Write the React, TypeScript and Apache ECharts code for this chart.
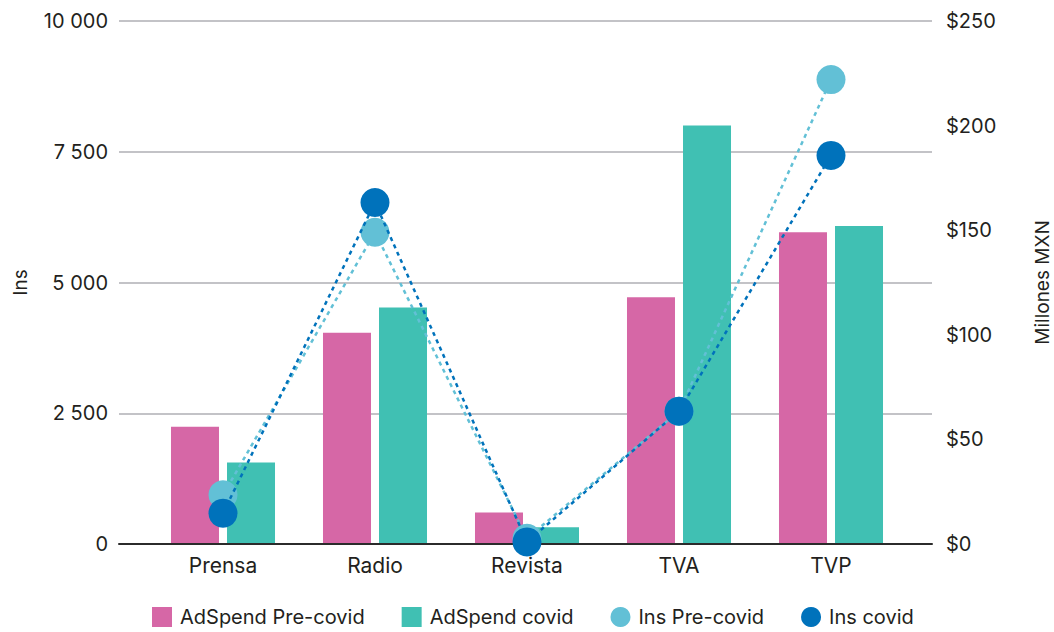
import React, { useEffect, useRef } from "react";
import * as echarts from "echarts";

const categories = ["Prensa", "Radio", "Revista", "TVA", "TVP"];
// AdSpend, millones MXN
const adSpendPre = [56, 101, 15, 118, 149];
const adSpendCovid = [39, 113, 8, 200, 152];
// Inserciones
const insPre = [940, 5960, 110, 2540, 8880];
const insCovid = [590, 6530, 40, 2540, 7430];

const PINK = "#D667A6";
const TEAL = "#40C0B3";
const LIGHT_BLUE = "#62C0D6";
const BLUE = "#0072BB";
const TEXT = "#231F20";
const FONT = "Inter, 'Liberation Sans', sans-serif";

const fmtThousands = (v: number) =>
  String(v).replace(/\B(?=(\d{3})+(?!\d))/g, " ");

export default function App() {
  const ref = useRef<HTMLDivElement>(null);

  useEffect(() => {
    if (!ref.current) return;
    const chart = echarts.init(ref.current, undefined, { renderer: "svg" });

    const lineStyle = (color: string) => ({
      color,
      width: 2.5,
      type: [4, 4] as number[],
    });

    chart.setOption({
      animation: false,
      textStyle: { fontFamily: FONT, color: TEXT },
      grid: [
        // frame: gridlines, axis labels, baseline
        {
          left: 119,
          right: 122,
          top: 21,
          bottom: 88,
          containLabel: false,
          outerBoundsMode: "none",
        },
        // data area
        {
          left: 147,
          right: 147,
          top: 21,
          bottom: 88,
          containLabel: false,
          outerBoundsMode: "none",
        },
      ],
      legend: {
        top: 602,
        left: 147,
        itemWidth: 20,
        itemHeight: 20,
        itemGap: 37,
        textStyle: {
          fontFamily: FONT,
          fontSize: 20,
          lineHeight: 20,
          color: TEXT,
          padding: [0, 0, 0, 3],
        },
        data: [
          { name: "AdSpend Pre-covid", icon: "rect" },
          { name: "AdSpend covid", icon: "rect" },
          { name: "Ins Pre-covid", icon: "circle" },
          { name: "Ins covid", icon: "circle" },
        ],
      },
      xAxis: [
        {
          type: "category",
          gridIndex: 0,
          data: categories,
          axisLine: { show: true, lineStyle: { color: "#2B2B2B", width: 2 } },
          axisTick: { show: false },
          axisLabel: { show: false },
          z: 5,
        },
        {
          type: "category",
          gridIndex: 1,
          data: categories,
          axisLine: { show: false },
          axisTick: { show: false },
          axisLabel: {
            fontFamily: FONT,
            fontSize: 21,
            color: TEXT,
            margin: 11,
          },
        },
      ],
      yAxis: [
        {
          type: "value",
          gridIndex: 0,
          position: "left",
          min: 0,
          max: 10000,
          interval: 2500,
          name: "Ins",
          nameLocation: "middle",
          nameRotate: 90,
          nameGap: 89,
          nameTextStyle: { fontFamily: FONT, fontSize: 19, color: TEXT },
          axisLine: { show: false },
          axisTick: { show: false },
          axisLabel: {
            fontFamily: FONT,
            fontSize: 20,
            color: TEXT,
            margin: 11,
            formatter: (v: number) => fmtThousands(v),
          },
          splitLine: { show: true, lineStyle: { color: "#C3C3C7", width: 2 } },
        },
        {
          type: "value",
          gridIndex: 0,
          position: "right",
          min: 0,
          max: 250,
          interval: 50,
          name: "Millones MXN",
          nameLocation: "middle",
          nameRotate: 90,
          nameGap: 101,
          nameTextStyle: { fontFamily: FONT, fontSize: 19, color: TEXT },
          axisLine: { show: false },
          axisTick: { show: false },
          axisLabel: {
            fontFamily: FONT,
            fontSize: 20,
            color: TEXT,
            margin: 14,
            formatter: (v: number) => "$" + v,
          },
          splitLine: { show: false },
        },
        {
          type: "value",
          gridIndex: 1,
          position: "left",
          min: 0,
          max: 10000,
          show: false,
        },
        {
          type: "value",
          gridIndex: 1,
          position: "right",
          min: 0,
          max: 250,
          show: false,
        },
      ],
      series: [
        {
          name: "AdSpend Pre-covid",
          type: "bar",
          xAxisIndex: 1,
          yAxisIndex: 3,
          data: adSpendPre,
          barWidth: 48,
          barGap: "16.7%",
          itemStyle: { color: PINK },
        },
        {
          name: "AdSpend covid",
          type: "bar",
          xAxisIndex: 1,
          yAxisIndex: 3,
          data: adSpendCovid,
          barWidth: 48,
          barGap: "16.7%",
          itemStyle: { color: TEAL },
        },
        {
          name: "Ins Pre-covid",
          type: "line",
          xAxisIndex: 1,
          yAxisIndex: 2,
          data: insPre,
          symbol: "circle",
          symbolSize: 29,
          itemStyle: { color: LIGHT_BLUE },
          lineStyle: lineStyle(LIGHT_BLUE),
          z: 6,
        },
        {
          name: "Ins covid",
          type: "line",
          xAxisIndex: 1,
          yAxisIndex: 2,
          data: insCovid,
          symbol: "circle",
          symbolSize: 29,
          itemStyle: { color: BLUE },
          lineStyle: lineStyle(BLUE),
          z: 7,
        },
      ],
    });

    return () => chart.dispose();
  }, []);

  return (
    <div
      ref={ref}
      style={{ position: "absolute", left: 0, top: 0, width: 1054, height: 632 }}
    />
  );
}
